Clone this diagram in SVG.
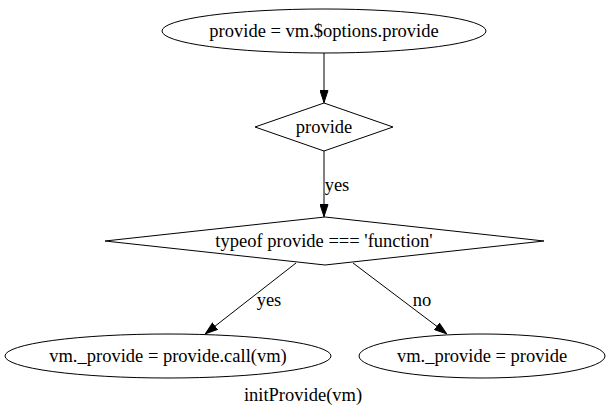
<svg xmlns="http://www.w3.org/2000/svg" width="608" height="415" viewBox="0 0 608 415">
<style>
.s{fill:#fff;stroke:#000;stroke-width:1}
.t{font-family:'Liberation Serif','Times New Roman',serif;font-size:18.5px;fill:#000;text-anchor:middle}
.e{stroke:#000;stroke-width:1;fill:none}
</style>
<defs>
<marker id="a" viewBox="0 0 13 9" refX="13" refY="4.5" markerWidth="13" markerHeight="9" markerUnits="userSpaceOnUse" orient="auto">
<path d="M0.5,0.5L12.5,4.5L0.5,8.5Z" fill="#000" stroke="#000"/>
</marker>
</defs>
<rect width="608" height="415" fill="#fff"/>
<g id="edges">
<path class="e" d="M324,53L324,103" marker-end="url(#a)"/>
<path class="e" d="M324,151L324,217" marker-end="url(#a)"/>
<text class="t" x="337" y="191">yes</text>
<path class="e" d="M296,263L205,334" marker-end="url(#a)"/>
<text class="t" x="269" y="306">yes</text>
<path class="e" d="M353,263L447,334" marker-end="url(#a)"/>
<text class="t" x="422" y="306">no</text>
</g>
<g id="n1">
<ellipse class="s" cx="324" cy="31" rx="162" ry="22"/>
<text class="t" x="324" y="37">provide = vm.$options.provide</text>
</g>
<g id="n2">
<polygon class="s" points="324,103 393,127 324,151 255,127"/>
<text class="t" x="324" y="133">provide</text>
</g>
<g id="n3">
<polygon class="s" points="325,217 544,241 325,265 105,241"/>
<text class="t" x="324" y="247">typeof provide === 'function'</text>
</g>
<g id="n4">
<ellipse class="s" cx="168" cy="356" rx="163" ry="22"/>
<text class="t" x="168" y="362">vm._provide = provide.call(vm)</text>
</g>
<g id="n5">
<ellipse class="s" cx="482" cy="356" rx="123" ry="22"/>
<text class="t" x="482" y="362">vm._provide = provide</text>
</g>
<text class="t" x="303" y="401">initProvide(vm)</text>
</svg>
